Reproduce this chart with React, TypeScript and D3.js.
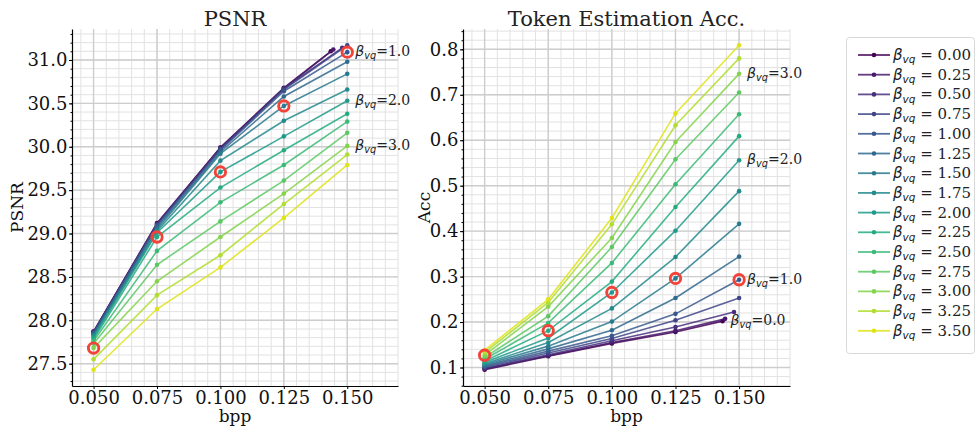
import { useEffect, useRef } from "react";
import * as d3 from "d3";

// beta_vq settings (one line per value)
const betas = [0, 0.25, 0.5, 0.75, 1.0, 1.25, 1.5, 1.75, 2.0, 2.25, 2.5, 2.75, 3.0, 3.25, 3.5];
const bppTicks = [0.05, 0.075, 0.1, 0.125, 0.15];
const bppSteps = [0.05, 0.075, 0.1, 0.125];
// the last bpp of each line (small betas stop a little earlier)
const bppLast = [0.1435, 0.1445, 0.148, 0.15, 0.15, 0.15, 0.15, 0.15, 0.15, 0.15, 0.15, 0.15, 0.15, 0.15, 0.15];

const psnrValues = [
  [27.87, 29.12, 29.99, 30.68, 31.1],
  [27.87, 29.11, 29.99, 30.67, 31.12],
  [27.86, 29.11, 29.98, 30.67, 31.14],
  [27.86, 29.1, 29.97, 30.66, 31.17],
  [27.85, 29.09, 29.96, 30.64, 31.09],
  [27.84, 29.07, 29.94, 30.58, 30.98],
  [27.83, 29.05, 29.92, 30.47, 30.84],
  [27.82, 29.03, 29.84, 30.3, 30.66],
  [27.8, 29.01, 29.71, 30.12, 30.53],
  [27.78, 28.96, 29.53, 29.96, 30.38],
  [27.76, 28.8, 29.36, 29.79, 30.29],
  [27.73, 28.64, 29.14, 29.61, 30.16],
  [27.68, 28.45, 28.96, 29.46, 30.01],
  [27.55, 28.29, 28.75, 29.34, 29.91],
  [27.43, 28.13, 28.61, 29.18, 29.79],
];

const accValues = [
  [0.095, 0.125, 0.153, 0.178, 0.202],
  [0.097, 0.126, 0.155, 0.181, 0.207],
  [0.098, 0.128, 0.159, 0.189, 0.222],
  [0.1, 0.132, 0.164, 0.204, 0.253],
  [0.102, 0.136, 0.17, 0.218, 0.293],
  [0.104, 0.141, 0.182, 0.253, 0.344],
  [0.106, 0.147, 0.201, 0.296, 0.416],
  [0.108, 0.155, 0.23, 0.343, 0.488],
  [0.111, 0.165, 0.265, 0.401, 0.556],
  [0.114, 0.181, 0.289, 0.453, 0.609],
  [0.118, 0.198, 0.33, 0.503, 0.657],
  [0.122, 0.213, 0.365, 0.558, 0.705],
  [0.127, 0.234, 0.385, 0.596, 0.746],
  [0.133, 0.243, 0.415, 0.633, 0.78],
  [0.138, 0.25, 0.429, 0.659, 0.809],
];

// highlighted beta at each bpp column
const circledBeta = [3.0, 2.25, 2.0, 1.5, 1.0];
const psnrNotes = [1.0, 2.0, 3.0];
const accNotes = [3.0, 2.0, 1.0, 0.0];
const psnrTicks = [27.5, 28.0, 28.5, 29.0, 29.5, 30.0, 30.5, 31.0];
const accTicks = [0.1, 0.2, 0.3, 0.4, 0.5, 0.6, 0.7, 0.8];

const SERIF = "DejaVu Serif";
const SANS = "DejaVu Sans";
const xDomain = [0.0415, 0.17];
const top = 29;
const bottom = 386;

const colorOf = (i: number) => d3.interpolateViridis((i / (betas.length - 1)) * 0.95);
const pointsOf = (row: number[], i: number) =>
  row.map((v, k) => [k < bppSteps.length ? bppSteps[k] : bppLast[i], v] as [number, number]);

function betaText(sel: any, suffix: string, size: number) {
  sel.append("tspan").attr("font-family", SANS).attr("font-style", "italic").text("β");
  sel
    .append("tspan")
    .attr("font-family", SANS)
    .attr("font-style", "italic")
    .attr("font-size", size * 0.7)
    .attr("dy", size * 0.22)
    .text("vq");
  sel.append("tspan").attr("dy", -size * 0.22).text(suffix);
}

function drawPanel(root: any, cfg: any) {
  const { x0, x1, values, title, ylabel, ylabelX, yTicks, yStep, notes } = cfg;
  const x = d3.scaleLinear().domain(xDomain).range([x0, x1]);
  const [lo, hi] = d3.extent(values.flat() as number[]) as [number, number];
  const pad = (hi - lo) * 0.05;
  const y = d3.scaleLinear().domain([lo - pad, hi + pad]).range([bottom, top]);
  const [ylo, yhi] = y.domain();

  const g = root.append("g");

  // minor grid
  const xMinor = d3.range(0, 40).map((k) => k * 0.005).filter((v) => v >= xDomain[0] && v <= xDomain[1] + 1e-9);
  const yMinor = d3
    .range(Math.ceil(ylo / yStep), Math.floor(yhi / yStep) + 1)
    .map((k) => k * yStep);
  g.selectAll(".xm")
    .data(xMinor)
    .enter()
    .append("line")
    .attr("x1", (d: number) => x(d))
    .attr("x2", (d: number) => x(d))
    .attr("y1", top)
    .attr("y2", bottom)
    .attr("stroke", "#e2e2e2")
    .attr("stroke-width", 1);
  g.selectAll(".ym")
    .data(yMinor)
    .enter()
    .append("line")
    .attr("x1", x0)
    .attr("x2", x1)
    .attr("y1", (d: number) => y(d))
    .attr("y2", (d: number) => y(d))
    .attr("stroke", "#e2e2e2")
    .attr("stroke-width", 1);

  // major grid
  g.selectAll(".xM")
    .data(bppTicks)
    .enter()
    .append("line")
    .attr("x1", (d: number) => x(d))
    .attr("x2", (d: number) => x(d))
    .attr("y1", top)
    .attr("y2", bottom)
    .attr("stroke", "#cdcdcd")
    .attr("stroke-width", 1.4);
  g.selectAll(".yM")
    .data(yTicks)
    .enter()
    .append("line")
    .attr("x1", x0)
    .attr("x2", x1)
    .attr("y1", (d: number) => y(d))
    .attr("y2", (d: number) => y(d))
    .attr("stroke", "#cdcdcd")
    .attr("stroke-width", 1.4);

  // axes
  const yAxis = g
    .append("g")
    .attr("transform", `translate(${x0},0)`)
    .call(d3.axisLeft(y).tickValues(yTicks).tickFormat(d3.format(".1f")).tickSize(3).tickSizeOuter(0).tickPadding(1.5));
  g.append("g")
    .attr("transform", `translate(${x0},0)`)
    .call(d3.axisLeft(y).tickValues(yMinor).tickFormat(() => "").tickSize(1.5))
    .select(".domain")
    .remove();
  const xAxis = g
    .append("g")
    .attr("transform", `translate(0,${bottom})`)
    .call(d3.axisBottom(x).tickValues(bppTicks).tickFormat(d3.format(".3f")).tickSize(3).tickSizeOuter(0).tickPadding(2));
  [yAxis, xAxis].forEach((a) => {
    a.attr("font-family", SERIF).attr("font-size", 18);
    a.selectAll("text").attr("fill", "#111");
    a.select(".domain").attr("stroke", "#000").attr("stroke-width", 1.2);
  });

  // lines
  const line = d3
    .line<[number, number]>()
    .x((d) => x(d[0]))
    .y((d) => y(d[1]));
  values.forEach((row: number[], i: number) => {
    const pts = pointsOf(row, i);
    g.append("path")
      .datum(pts)
      .attr("fill", "none")
      .attr("stroke", colorOf(i))
      .attr("stroke-opacity", 0.85)
      .attr("stroke-width", 1.6)
      .attr("d", line);
    g.selectAll(null)
      .data(pts)
      .enter()
      .append("circle")
      .attr("cx", (d: [number, number]) => x(d[0]))
      .attr("cy", (d: [number, number]) => y(d[1]))
      .attr("r", 2.3)
      .attr("fill", colorOf(i));
  });

  // highlighted points
  circledBeta.forEach((b, k) => {
    const i = betas.indexOf(b);
    const p = pointsOf(values[i], i)[k];
    g.append("circle")
      .attr("cx", x(p[0]))
      .attr("cy", y(p[1]))
      .attr("r", 5.2)
      .attr("fill", "none")
      .attr("stroke", "#f2433a")
      .attr("stroke-width", 2.9);
  });

  // notes
  notes.forEach((b: number) => {
    const i = betas.indexOf(b);
    const pts = pointsOf(values[i], i);
    const p = pts[pts.length - 1];
    const t = g
      .append("text")
      .attr("x", x(p[0]) + 8)
      .attr("y", y(p[1]) + 4)
      .attr("font-family", SERIF)
      .attr("font-size", 14)
      .attr("fill", "#222");
    betaText(t, `=${b.toFixed(1)}`, 14);
  });

  // titles
  g.append("text")
    .attr("x", (x0 + x1) / 2)
    .attr("y", 26)
    .attr("text-anchor", "middle")
    .attr("font-family", SERIF)
    .attr("font-size", 21)
    .attr("fill", "#222")
    .text(title);
  g.append("text")
    .attr("x", (x0 + x1) / 2)
    .attr("y", 422)
    .attr("text-anchor", "middle")
    .attr("font-family", SERIF)
    .attr("font-size", 17)
    .attr("fill", "#111")
    .text("bpp");
  g.append("text")
    .attr("transform", `translate(${ylabelX},${(top + bottom) / 2}) rotate(-90)`)
    .attr("text-anchor", "middle")
    .attr("font-family", SERIF)
    .attr("font-size", 17)
    .attr("fill", "#111")
    .text(ylabel);
}

function drawLegend(root: any) {
  const g = root.append("g");
  g.append("rect")
    .attr("x", 846.5)
    .attr("y", 37.5)
    .attr("width", 128)
    .attr("height", 316)
    .attr("rx", 3)
    .attr("fill", "#fff")
    .attr("stroke", "#d8d8d8");
  betas.forEach((b, i) => {
    const yy = 55 + i * 19.7;
    g.append("line")
      .attr("x1", 858)
      .attr("x2", 890)
      .attr("y1", yy)
      .attr("y2", yy)
      .attr("stroke", colorOf(i))
      .attr("stroke-opacity", 0.85)
      .attr("stroke-width", 1.8);
    g.append("circle").attr("cx", 874).attr("cy", yy).attr("r", 2.3).attr("fill", colorOf(i));
    const t = g
      .append("text")
      .attr("x", 893)
      .attr("y", yy + 5)
      .attr("font-family", SERIF)
      .attr("font-size", 15)
      .attr("fill", "#222");
    betaText(t, ` = ${b.toFixed(2)}`, 15);
  });
}

export default function App() {
  const svgRef = useRef<SVGSVGElement>(null);

  useEffect(() => {
    if (!svgRef.current) return;
    const svg = d3.select(svgRef.current);
    svg.selectAll("*").remove();
    svg.append("rect").attr("width", 977).attr("height", 426).attr("fill", "#fff");

    drawPanel(svg, {
      x0: 72,
      x1: 398,
      values: psnrValues,
      title: "PSNR",
      ylabel: "PSNR",
      ylabelX: 23,
      yTicks: psnrTicks,
      yStep: 0.1,
      notes: psnrNotes,
    });
    drawPanel(svg, {
      x0: 463,
      x1: 790,
      values: accValues,
      title: "Token Estimation Acc.",
      ylabel: "Acc",
      ylabelX: 430,
      yTicks: accTicks,
      yStep: 0.02,
      notes: accNotes,
    });
    drawLegend(svg);
  }, []);

  return (
    <svg
      ref={svgRef}
      width={977}
      height={426}
      viewBox="0 0 977 426"
      style={{ position: "absolute", left: 0, top: 0, display: "block" }}
    />
  );
}
